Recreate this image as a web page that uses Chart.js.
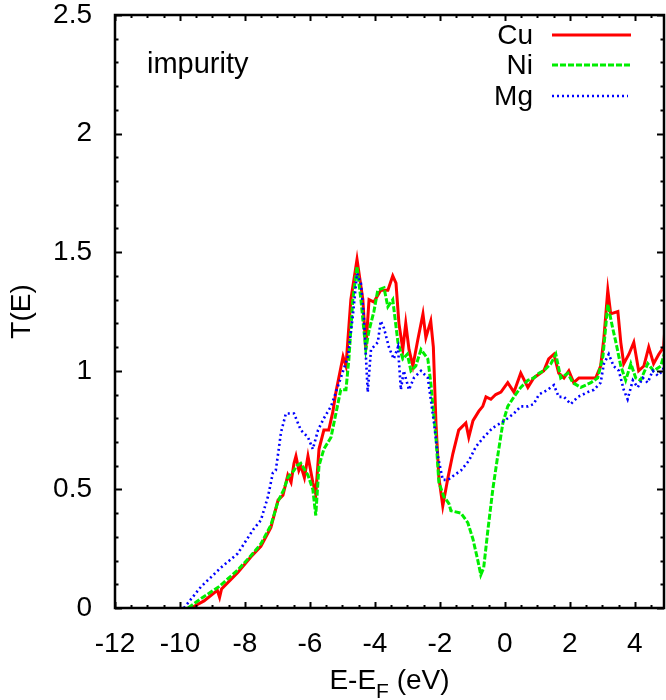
<!DOCTYPE html>
<html>
<head>
<meta charset="utf-8">
<script src="https://cdn.jsdelivr.net/npm/chart.js@4"></script>
<style>
  html, body { margin: 0; padding: 0; background: #fff; }
  #wrap { width: 666px; height: 700px; }
</style>
</head>
<body>
<div id="wrap"><canvas id="transChart" width="666" height="700"></canvas></div>
<script>
// Energía (eV) y transmisión T(E) para cada impureza
const cuE = [-9.66, -9.26, -8.85, -8.78, -8.72, -8.22, -7.82, -7.51, -7.2, -6.98, -6.83, -6.68, -6.58, -6.49, -6.43, -6.34, -6.28, -6.17, -6.06, -5.91, -5.82, -5.72, -5.57, -5.42, -5.29, -5.2, -4.98, -4.89, -4.74, -4.55, -4.37, -4.28, -4.18, -4.03, -3.82, -3.6, -3.45, -3.35, -3.26, -3.14, -3.05, -2.95, -2.83, -2.68, -2.52, -2.43, -2.28, -2.2, -2.12, -2.03, -1.91, -1.75, -1.66, -1.6, -1.42, -1.2, -1.11, -0.98, -0.8, -0.68, -0.58, -0.43, -0.28, -0.12, 0.09, 0.28, 0.49, 0.71, 0.89, 1.2, 1.35, 1.51, 1.66, 1.82, 1.97, 2.12, 2.28, 2.55, 2.8, 2.95, 3.05, 3.17, 3.26, 3.48, 3.57, 3.66, 3.82, 3.97, 4.12, 4.28, 4.43, 4.58, 4.74, 4.89, 4.95];
const cuT = [0, 0.03, 0.075, 0.045, 0.08, 0.15, 0.215, 0.26, 0.34, 0.455, 0.475, 0.56, 0.53, 0.61, 0.64, 0.58, 0.6, 0.55, 0.64, 0.53, 0.48, 0.67, 0.75, 0.75, 0.83, 0.91, 1.06, 1.02, 1.3, 1.47, 1.3, 1.09, 1.3, 1.29, 1.34, 1.34, 1.4, 1.37, 1.2, 1.09, 1.2, 1.09, 1.02, 1.13, 1.24, 1.14, 1.21, 1.1, 0.78, 0.55, 0.43, 0.55, 0.61, 0.65, 0.75, 0.78, 0.72, 0.79, 0.83, 0.85, 0.89, 0.88, 0.9, 0.91, 0.95, 0.91, 0.99, 0.93, 0.97, 1.0, 1.05, 1.07, 0.99, 0.97, 1.0, 0.95, 0.97, 0.97, 0.97, 1.02, 1.14, 1.34, 1.24, 1.25, 1.12, 1.03, 1.07, 1.12, 1.0, 1.02, 1.1, 1.03, 1.07, 1.1, 1.23];

const niE = [-9.75, -9.35, -8.8, -8.22, -7.82, -7.51, -7.2, -6.98, -6.8, -6.68, -6.49, -6.4, -6.28, -6.06, -5.91, -5.82, -5.72, -5.57, -5.35, -5.2, -5.05, -4.89, -4.8, -4.68, -4.55, -4.43, -4.28, -4.18, -4.03, -3.91, -3.72, -3.6, -3.45, -3.29, -3.14, -3.0, -2.89, -2.74, -2.58, -2.37, -2.28, -2.12, -2.03, -1.88, -1.72, -1.66, -1.35, -1.14, -0.98, -0.83, -0.74, -0.65, -0.52, -0.37, -0.22, -0.06, 0.09, 0.28, 0.49, 0.71, 0.89, 1.05, 1.2, 1.42, 1.57, 1.72, 1.94, 2.09, 2.34, 2.65, 2.86, 3.02, 3.17, 3.32, 3.42, 3.57, 3.72, 3.88, 4.03, 4.18, 4.4, 4.58, 4.8, 4.95];
const niT = [0, 0.04, 0.09, 0.16, 0.22, 0.27, 0.35, 0.45, 0.5, 0.55, 0.58, 0.6, 0.61, 0.56, 0.5, 0.39, 0.6, 0.67, 0.72, 0.82, 0.92, 0.92, 1.05, 1.3, 1.44, 1.3, 1.09, 1.17, 1.25, 1.34, 1.35, 1.27, 1.3, 1.12, 1.05, 1.07, 1.0, 1.02, 1.09, 1.05, 0.95, 0.72, 0.53, 0.47, 0.44, 0.41, 0.4, 0.36, 0.29, 0.2, 0.14, 0.17, 0.33, 0.5, 0.64, 0.78, 0.85, 0.89, 0.93, 0.96, 0.97, 0.99, 1.0, 1.03, 1.07, 0.97, 0.99, 0.95, 0.93, 0.95, 0.97, 1.06, 1.28, 1.18, 1.12, 1.02, 0.96, 1.03, 0.97, 0.96, 1.03, 1.0, 1.02, 1.09];

const mgE = [-9.88, -9.35, -8.74, -8.22, -7.75, -7.51, -7.29, -7.14, -7.05, -6.98, -6.89, -6.74, -6.49, -6.28, -6.06, -5.91, -5.75, -5.57, -5.35, -5.2, -5.05, -4.83, -4.68, -4.55, -4.43, -4.34, -4.22, -4.12, -3.91, -3.82, -3.72, -3.57, -3.42, -3.29, -3.2, -3.11, -2.95, -2.8, -2.58, -2.37, -2.18, -2.06, -1.91, -1.75, -1.66, -1.35, -1.11, -0.89, -0.65, -0.37, -0.12, 0.09, 0.28, 0.49, 0.71, 0.89, 1.05, 1.32, 1.51, 1.66, 1.82, 2.03, 2.25, 2.55, 2.74, 2.95, 3.05, 3.2, 3.35, 3.51, 3.66, 3.78, 3.94, 4.09, 4.25, 4.4, 4.55, 4.71, 4.86, 4.95];
const mgT = [0, 0.09, 0.17, 0.23, 0.33, 0.37, 0.47, 0.57, 0.58, 0.65, 0.74, 0.82, 0.82, 0.75, 0.72, 0.67, 0.75, 0.8, 0.85, 0.91, 0.97, 1.06, 1.23, 1.41, 1.37, 1.23, 0.91, 1.09, 1.12, 1.21, 1.18, 1.1, 1.05, 1.1, 0.92, 1.0, 0.92, 0.97, 1.0, 0.97, 0.78, 0.64, 0.54, 0.54, 0.55, 0.58, 0.62, 0.68, 0.72, 0.76, 0.78, 0.8, 0.82, 0.85, 0.85, 0.86, 0.9, 0.92, 0.94, 0.89, 0.89, 0.86, 0.89, 0.91, 0.92, 0.95, 1.03, 1.07, 1.02, 1.0, 0.92, 0.88, 0.96, 0.93, 0.97, 0.95, 1.0, 0.98, 1.0, 1.05];

// Marcas de los ejes
const xTickValues = [-12, -10, -8, -6, -4, -2, 0, 2, 4];
const yTickValues = [0, 0.5, 1, 1.5, 2, 2.5];

const seriesNames = ['Cu', 'Ni', 'Mg'];
const seriesColors = ['#ff0000', '#00ee00', '#0000ff'];
const seriesDash = [[], [6, 2], [2, 3]];
const seriesWidth = [3, 3, 2.6];

const FONT = '"Liberation Sans", Arial, Helvetica, sans-serif';

function toPoints(xs, ys) {
    return xs.map((x, i) => ({ x: x, y: ys[i] }));
}

// Marco, marcas internas, leyenda y textos al estilo gnuplot
const gnuplotFrame = {
    id: 'gnuplotFrame',
    afterDatasetsDraw(chart) {
        const ctx = chart.ctx;
        const a = chart.chartArea;
        const xs = chart.scales.x;
        const ys = chart.scales.y;
        ctx.save();
        ctx.strokeStyle = '#000';

        // marcas del eje x (abajo y arriba)
        ctx.lineWidth = 2;
        for (let v = -12; v <= 4.9; v += 0.5) {
            const px = Math.round(xs.getPixelForValue(v)) + 0.5;
            const len = Math.abs(v % 2) < 1e-6 ? 6 : 3;
            ctx.beginPath();
            ctx.moveTo(px, a.bottom); ctx.lineTo(px, a.bottom - len);
            ctx.moveTo(px, a.top); ctx.lineTo(px, a.top + len);
            ctx.stroke();
        }
        // marcas del eje y (izquierda y derecha)
        for (let i = 0; i <= 25; i++) {
            const v = i / 10;
            const py = Math.round(ys.getPixelForValue(v)) + 0.5;
            const len = i % 5 === 0 ? 7 : 3.5;
            ctx.beginPath();
            ctx.moveTo(a.left, py); ctx.lineTo(a.left + len, py);
            ctx.moveTo(a.right, py); ctx.lineTo(a.right - len, py);
            ctx.stroke();
        }
        // marco
        ctx.lineWidth = 2.5;
        ctx.strokeRect(a.left, a.top, a.right - a.left, a.bottom - a.top);

        // leyenda
        ctx.font = '28px ' + FONT;
        ctx.fillStyle = '#000';
        ctx.textAlign = 'right';
        ctx.textBaseline = 'middle';
        const legendY = [35, 65, 96];
        seriesNames.forEach((name, i) => {
            ctx.fillText(name, 533, legendY[i] + 1);
            ctx.beginPath();
            ctx.lineWidth = seriesWidth[i];
            ctx.strokeStyle = seriesColors[i];
            ctx.setLineDash(seriesDash[i]);
            ctx.moveTo(552, legendY[i]);
            ctx.lineTo(i === 2 ? 628 : 631, legendY[i]);
            ctx.stroke();
        });
        ctx.setLineDash([]);

        // etiqueta interna
        ctx.textAlign = 'left';
        ctx.textBaseline = 'alphabetic';
        ctx.font = '29px ' + FONT;
        ctx.fillText('impurity', 147, 73);

        // título del eje x con subíndice
        const main1 = 'E-E';
        const sub = 'F';
        const main2 = ' (eV)';
        ctx.font = '28px ' + FONT;
        const w1 = ctx.measureText(main1).width;
        const w3 = ctx.measureText(main2).width;
        ctx.font = '21px ' + FONT;
        const w2 = ctx.measureText(sub).width;
        const cx = (a.left + a.right) / 2;
        let x0 = cx - (w1 + w2 + w3) / 2;
        ctx.font = '28px ' + FONT;
        ctx.fillText(main1, x0, 689);
        ctx.font = '21px ' + FONT;
        ctx.fillText(sub, x0 + w1, 698);
        ctx.font = '28px ' + FONT;
        ctx.fillText(main2, x0 + w1 + w2, 689);

        // título del eje y
        ctx.save();
        ctx.translate(22, (a.top + a.bottom) / 2);
        ctx.rotate(-Math.PI / 2);
        ctx.textAlign = 'center';
        ctx.textBaseline = 'middle';
        ctx.fillText('T(E)', 0, 0);
        ctx.restore();

        ctx.restore();
    }
};

const ctx = document.getElementById('transChart').getContext('2d');
const transChart = new Chart(ctx, {
    type: 'scatter',
    data: {
        datasets: [
            { label: seriesNames[0], data: toPoints(cuE, cuT), order: 3 },
            { label: seriesNames[1], data: toPoints(niE, niT), order: 2 },
            { label: seriesNames[2], data: toPoints(mgE, mgT), order: 1 }
        ].map((d, i) => Object.assign(d, {
            showLine: true,
            borderColor: seriesColors[i],
            borderWidth: seriesWidth[i],
            borderDash: seriesDash[i],
            pointRadius: 0,
            tension: 0,
            fill: false
        }))
    },
    options: {
        responsive: false,
        animation: false,
        devicePixelRatio: 1,
        layout: { padding: { top: 15, right: 2, left: 0, bottom: 0 } },
        plugins: {
            legend: { display: false },
            tooltip: { enabled: false }
        },
        scales: {
            x: {
                type: 'linear',
                min: -12,
                max: 4.9,
                afterBuildTicks: scale => { scale.ticks = xTickValues.map(v => ({ value: v })); },
                afterFit: scale => {
                    scale.height = 92;
                    scale.paddingLeft = 0;
                    scale.paddingRight = 0;
                },
                grid: { display: false, drawTicks: false },
                border: { display: false },
                ticks: {
                    autoSkip: false,
                    maxRotation: 0,
                    padding: 19,
                    color: '#000',
                    font: { family: FONT, size: 28 },
                    callback: v => String(v)
                }
            },
            y: {
                type: 'linear',
                min: 0,
                max: 2.5,
                afterBuildTicks: scale => { scale.ticks = yTickValues.map(v => ({ value: v })); },
                afterFit: scale => {
                    scale.width = 115;
                    scale.paddingTop = 0;
                    scale.paddingBottom = 0;
                },
                grid: { display: false, drawTicks: false },
                border: { display: false },
                ticks: {
                    autoSkip: false,
                    padding: 23,
                    color: '#000',
                    font: { family: FONT, size: 28 },
                    callback: v => String(v)
                }
            }
        }
    },
    plugins: [gnuplotFrame]
});
</script>
</body>
</html>
